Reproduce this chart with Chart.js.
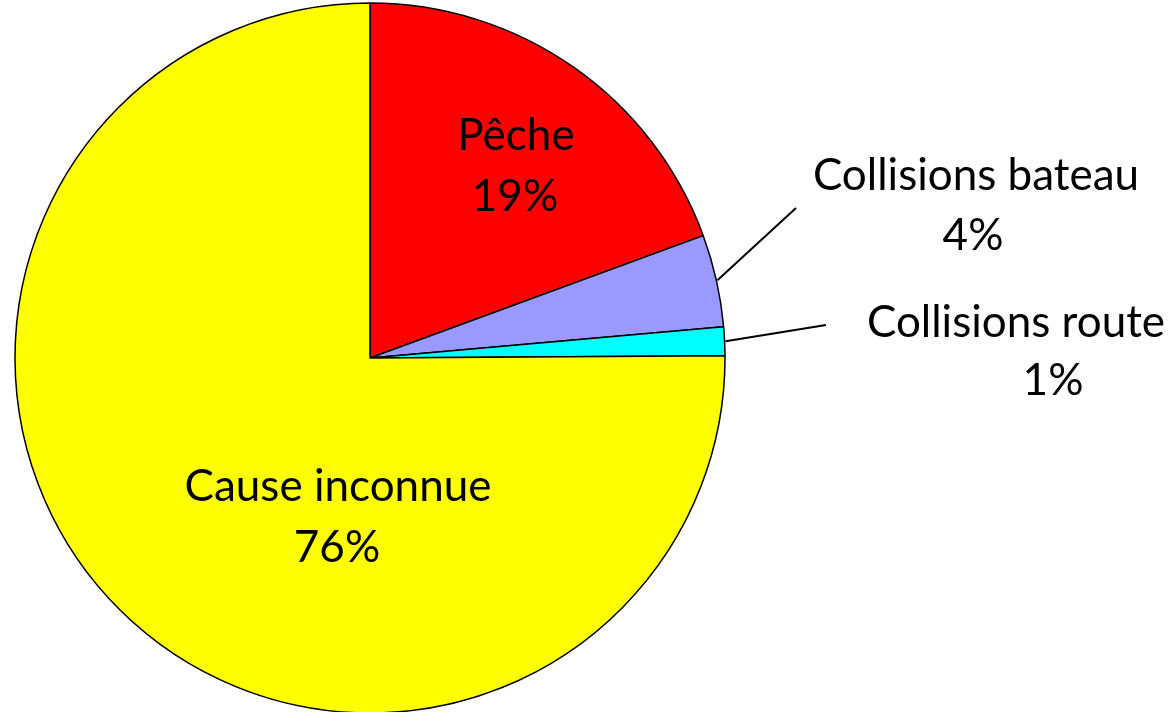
<!DOCTYPE html>
<html>
<head>
<meta charset="utf-8">
<script src="https://cdn.jsdelivr.net/npm/chart.js@4/dist/chart.umd.min.js"></script>
<style>
  html, body { margin: 0; padding: 0; background: #fff; overflow: hidden; }
  #wrap { width: 1172px; height: 712px; position: relative; }
</style>
</head>
<body>
<div id="wrap"><canvas id="chart-pie"></canvas></div>
<script>
'use strict';

// data
var categories = ['Pêche', 'Collisions bateau', 'Collisions route', 'Cause inconnue'];
var values = [19.4, 4.2, 1.3, 75.1];
var pctLabels = ['19%', '4%', '1%', '76%'];
var colors = ['#ff0000', '#9999ff', '#00ffff', '#ffff00'];

// where each label goes, relative to the pie centre (two lines each)
var labelLayout = [
    { lines: [[146, -208], [145, -147]], leader: null },
    { lines: [[606, -168], [603, -108]], leader: [426, -150] },
    { lines: [[646, -21], [683, 37]], leader: [456, -33] },
    { lines: [[-32, 143], [-33, 204]], leader: null }
];

var pieLabels = {
    id: 'pieLabels',
    afterDatasetsDraw: function(chart) {
        var ctx = chart.ctx;
        var arcs = chart.getDatasetMeta(0).data;
        ctx.save();
        ctx.font = '44px Lato';
        ctx.fillStyle = '#000';
        ctx.textAlign = 'center';
        ctx.textBaseline = 'alphabetic';
        arcs.forEach(function(arc, i) {
            var cx = arc.x, cy = arc.y;
            var lay = labelLayout[i];
            if (lay.leader) {
                var mid = (arc.startAngle + arc.endAngle) / 2;
                var r = arc.outerRadius + 1;
                ctx.beginPath();
                ctx.strokeStyle = '#000';
                ctx.lineWidth = 2;
                ctx.moveTo(cx + Math.cos(mid) * r, cy + Math.sin(mid) * r);
                ctx.lineTo(cx + lay.leader[0], cy + lay.leader[1]);
                ctx.stroke();
            }
            ctx.fillText(categories[i], cx + lay.lines[0][0], cy + lay.lines[0][1]);
            ctx.fillText(pctLabels[i], cx + lay.lines[1][0], cy + lay.lines[1][1]);
        });
        ctx.restore();
    }
};

var bar = document.getElementById('chart-pie').getContext('2d');
var myPieChart = new Chart(bar, {
    type: 'pie',
    data: {
        labels: categories,
        datasets: [{
            data: values,
            backgroundColor: colors,
            borderColor: '#000',
            borderWidth: 1.5,
            radius: 355
        }]
    },
    plugins: [pieLabels],
    options: {
        responsive: true,
        maintainAspectRatio: false,
        animation: false,
        layout: { padding: { left: 0, right: 432, top: 4, bottom: 0 } },
        plugins: {
            legend: { display: false },
            tooltip: { enabled: false }
        }
    }
});
</script>
</body>
</html>
